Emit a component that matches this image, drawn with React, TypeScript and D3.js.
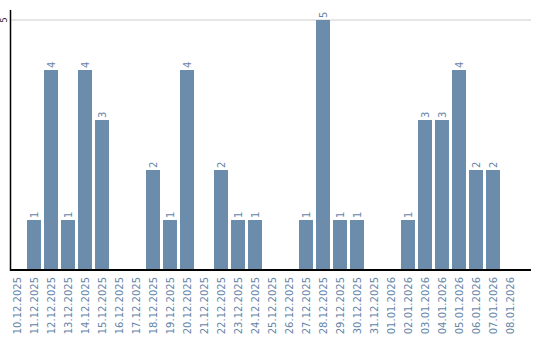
import React from "react";
import * as d3 from "d3";

const categories = [
  "10.12.2025", "11.12.2025", "12.12.2025", "13.12.2025", "14.12.2025",
  "15.12.2025", "16.12.2025", "17.12.2025", "18.12.2025", "19.12.2025",
  "20.12.2025", "21.12.2025", "22.12.2025", "23.12.2025", "24.12.2025",
  "25.12.2025", "26.12.2025", "27.12.2025", "28.12.2025", "29.12.2025",
  "30.12.2025", "31.12.2025", "01.01.2026", "02.01.2026", "03.01.2026",
  "04.01.2026", "05.01.2026", "06.01.2026", "07.01.2026", "08.01.2026",
];
const values = [0, 1, 4, 1, 4, 3, 0, 0, 2, 1, 4, 0, 2, 1, 1, 0, 0, 1, 5, 1, 1, 0, 0, 1, 3, 3, 4, 2, 2, 0];
const yTicks = [5];

const W = 540;
const H = 340;
const left = 10.5;
const right = 531;
const top = 10;
const baseY = 270;
const barColor = "#6b8cab";
const labelColor = "#6585a8";
const font = "DejaVu Sans, Verdana, sans-serif";

export default function App() {
  const x = d3
    .scaleBand<string>()
    .domain(categories)
    .range([8.5, 518.5])
    .paddingInner(3 / 17)
    .paddingOuter(1.5 / 17);
  const y = d3.scaleLinear().domain([0, 5]).range([baseY, 20]);

  return (
    <svg
      width={W}
      height={H}
      style={{ position: "fixed", left: 0, top: 0, background: "#fff" }}
    >
      {yTicks.map((t) => (
        <g key={t}>
          <line x1={left} x2={right} y1={y(t)} y2={y(t)} stroke="#cccccc" strokeWidth={1} />
          <text
            transform={`translate(4.5,${y(t)}) rotate(-90)`}
            textAnchor="middle"
            dy="0.35em"
            fontFamily={font}
            fontSize={8}
            fill="#222"
          >
            {t}
          </text>
        </g>
      ))}
      {categories.map((c, i) => {
        const v = values[i];
        const bx = x(c)!;
        const cx = bx + x.bandwidth() / 2;
        return (
          <g key={c}>
            {v > 0 && (
              <>
                <rect x={bx} y={y(v)} width={x.bandwidth()} height={baseY - y(v)} fill={barColor} />
                <text
                  transform={`translate(${cx},${y(v) - 2}) rotate(-90)`}
                  textAnchor="start"
                  dy="0.35em"
                  fontFamily={font}
                  fontSize={10}
                  fill={labelColor}
                >
                  {v}
                </text>
              </>
            )}
            <text
              transform={`translate(${cx},${baseY + 7}) rotate(-90)`}
              textAnchor="end"
              dy="0.35em"
              fontFamily={font}
              fontSize={10}
              fill={labelColor}
            >
              {c}
            </text>
          </g>
        );
      })}
      <line x1={left} x2={left} y1={top} y2={baseY + 1} stroke="#000" strokeWidth={1.5} />
      <line x1={left - 0.5} x2={right} y1={baseY} y2={baseY} stroke="#000" strokeWidth={2} />
    </svg>
  );
}
